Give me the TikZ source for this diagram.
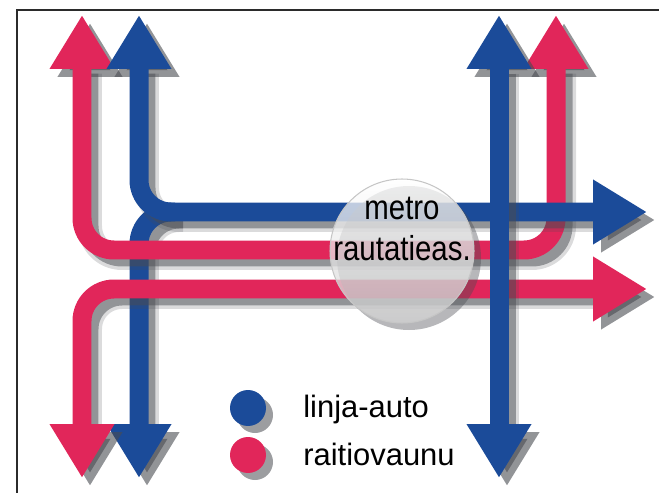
\documentclass[tikz,border=0pt]{standalone}
\usepackage{fontspec}
\setmainfont{Liberation Sans}
\newfontfamily\narrowfont[FakeStretch=0.85]{Liberation Sans}
\usetikzlibrary{arrows.meta}
\definecolor{busBlue}{HTML}{1B4B99}
\definecolor{tramRed}{HTML}{E1265A}
\definecolor{shadowGrey}{HTML}{4A4C52}
\definecolor{frameGrey}{HTML}{2B2B2B}
\tikzset{
  route/.style={draw=#1, line width=0.38cm, rounded corners=0.64cm},
  routeshadow/.style={draw=shadowGrey, opacity=0.5, line width=0.34cm, rounded corners=0.64cm, transform canvas={shift={(0.16cm,-0.16cm)}}},
  routeblur/.style={draw=shadowGrey, opacity=0.2, line width=0.48cm, rounded corners=0.64cm, transform canvas={shift={(0.16cm,-0.16cm)}}},
  dotshadow/.style={fill=shadowGrey, opacity=0.55},
  legenddot/.style={circle, fill=#1, minimum size=0.72cm, inner sep=0pt},
  legendtext/.style={anchor=base west, font=\fontsize{17.6}{20}\selectfont, inner sep=0pt},
  stationtext/.style={anchor=base, font=\narrowfont\fontsize{19.7}{22}\selectfont, inner sep=0pt},
}
% shadow, soft edge and line of one route
\newcommand{\drawroute}[3]{%
  \draw[routeblur, #2] #3;
  \draw[routeshadow, #2] #3;
  \draw[route=#1, #2] #3;}
\begin{document}
\begin{tikzpicture}[x=0.02cm, y=-0.02cm, >={Triangle[length=1.08cm,width=1.22cm]}]
  \useasboundingbox (0,0) rectangle (659,493);
  \draw[frameGrey, line width=0.04cm] (17,493) -- (17,10) -- (659,10);

  % route ends
  \coordinate (tramNW) at (82,15);
  \coordinate (tramSW) at (82,478);
  \coordinate (tramNE) at (556,15);
  \coordinate (tramE) at (647,289);
  \coordinate (busNW) at (139,15);
  \coordinate (busSW) at (139,478);
  \coordinate (busE) at (647,212);
  \coordinate (busNE) at (499,15);
  \coordinate (busSE) at (499,478);

  % bus, lower left branch (under the tram)
  \drawroute{busBlue}{<-}{(busSW) -- (139,212) -- (175,212)}

  % tram
  \drawroute{tramRed}{<->}{(tramNW) -- (82,250) -- (556,250) -- (tramNE)}
  \drawroute{tramRed}{<->}{(tramE) -- (82,289) -- (tramSW)}

  % bus, over the tram on the right
  \drawroute{busBlue}{<->}{(busNW) -- (139,212) -- (busE)}
  \drawroute{busBlue}{<->}{(busNE) -- (busSE)}

  % station
  \fill[dotshadow, opacity=0.4] (409,258) circle (72);
  \node[circle, minimum size=2.88cm, draw=gray!45, line width=0.6pt, top color=white, bottom color=gray!35, fill opacity=0.75] (station) at (402,251) {};
  \node[stationtext] (metro) at (402,220) {metro};
  \node[stationtext] (rautatie) at (402,260) {rautatieas.};

  % legend
  \fill[dotshadow] (255,415) circle (18);
  \node[legenddot=busBlue] (busdot) at (248,408) {};
  \fill[dotshadow] (255,462) circle (18);
  \node[legenddot=tramRed] (tramdot) at (248,455) {};
  \node[legendtext] (buslabel) at (303,417) {linja-auto};
  \node[legendtext] (tramlabel) at (303,465) {raitiovaunu};
\end{tikzpicture}
\end{document}
